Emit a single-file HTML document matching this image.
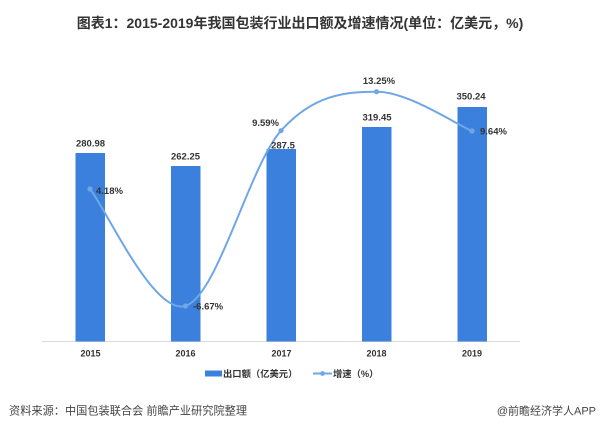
<!DOCTYPE html>
<html>
<head>
<meta charset="utf-8">
<style>
html,body{margin:0;padding:0;background:#fff;}
body{width:607px;height:428px;overflow:hidden;position:relative;}
svg{position:absolute;left:0;top:0;}
text{font-family:"Liberation Sans","Noto Sans CJK SC",sans-serif;}
</style>
</head>
<body>
<svg width="607" height="428" viewBox="0 0 607 428" xmlns="http://www.w3.org/2000/svg">
  <rect width="607" height="428" fill="#fff"/>
  <!-- title -->
  <text x="300" y="28" text-anchor="middle" font-size="14" font-weight="bold" fill="#333">图表1：2015-2019年我国包装行业出口额及增速情况(单位：亿美元，%)</text>

  <!-- axis -->
  <line x1="42" y1="341.5" x2="520" y2="341.5" stroke="#d9d9d9" stroke-width="1"/>

  <!-- bars -->
  <g fill="#3b80dc">
    <rect x="75.5" y="153" width="29.5" height="188.5"/>
    <rect x="171" y="166" width="29.5" height="175.5"/>
    <rect x="266.5" y="149" width="29.5" height="192.5"/>
    <rect x="362" y="127" width="29.5" height="214.5"/>
    <rect x="457.5" y="107" width="29.5" height="234.5"/>
  </g>

  <!-- growth line -->
  <path d="M90,189 C105.9,208.5 153.7,315.7 185.5,306 C217.3,296.3 249.2,166.4 281,130.7 C312.8,95 344.7,91.65 376.5,91.7 C408.3,91.75 456.1,124.45 472,131"
        fill="none" stroke="#6fa7e6" stroke-width="2"/>
  <g fill="#6fa7e6">
    <circle cx="90" cy="189" r="2.6"/>
    <circle cx="185.5" cy="306" r="2.6"/>
    <circle cx="281" cy="130.7" r="2.6"/>
    <circle cx="376.5" cy="91.7" r="2.6"/>
    <circle cx="472" cy="131" r="2.6"/>
  </g>

  <!-- bar value labels -->
  <g font-size="9.5" font-weight="bold" fill="#333" text-anchor="middle">
    <text x="90.5" y="146.5">280.98</text>
    <text x="185.5" y="159.5">262.25</text>
    <text x="283" y="148.5">287.5</text>
    <text x="377" y="120.5">319.45</text>
    <text x="471" y="99.5">350.24</text>
  </g>
  <!-- line labels -->
  <g font-size="9.5" font-weight="bold" fill="#333">
    <text x="96" y="194">4.18%</text>
    <text x="193" y="309.5">-6.67%</text>
    <text x="279" y="126" text-anchor="end">9.59%</text>
    <text x="379" y="84" text-anchor="middle">13.25%</text>
    <text x="480" y="134.5">9.64%</text>
  </g>

  <!-- x labels -->
  <g font-size="9" font-weight="bold" fill="#333" text-anchor="middle">
    <text x="90.5" y="356.5">2015</text>
    <text x="185.5" y="356.5">2016</text>
    <text x="281.5" y="356.5">2017</text>
    <text x="376.5" y="356.5">2018</text>
    <text x="472" y="356.5">2019</text>
  </g>

  <!-- legend -->
  <rect x="205" y="370.5" width="17" height="6" fill="#3b80dc"/>
  <text x="223" y="377" font-size="9.3" font-weight="bold" fill="#333">出口额（亿美元）</text>
  <line x1="313" y1="373.5" x2="332" y2="373.5" stroke="#6fa7e6" stroke-width="2"/>
  <circle cx="322.5" cy="373.5" r="2.4" fill="#6fa7e6"/>
  <text x="333" y="377" font-size="9.3" font-weight="bold" fill="#333">增速（%）</text>

  <!-- source -->
  <text x="9" y="414.5" font-size="11.2" fill="#444">资料来源：中国包装联合会 前瞻产业研究院整理</text>
  <text x="596" y="414.5" font-size="11" fill="#444" text-anchor="end">@前瞻经济学人APP</text>
</svg>
</body>
</html>
